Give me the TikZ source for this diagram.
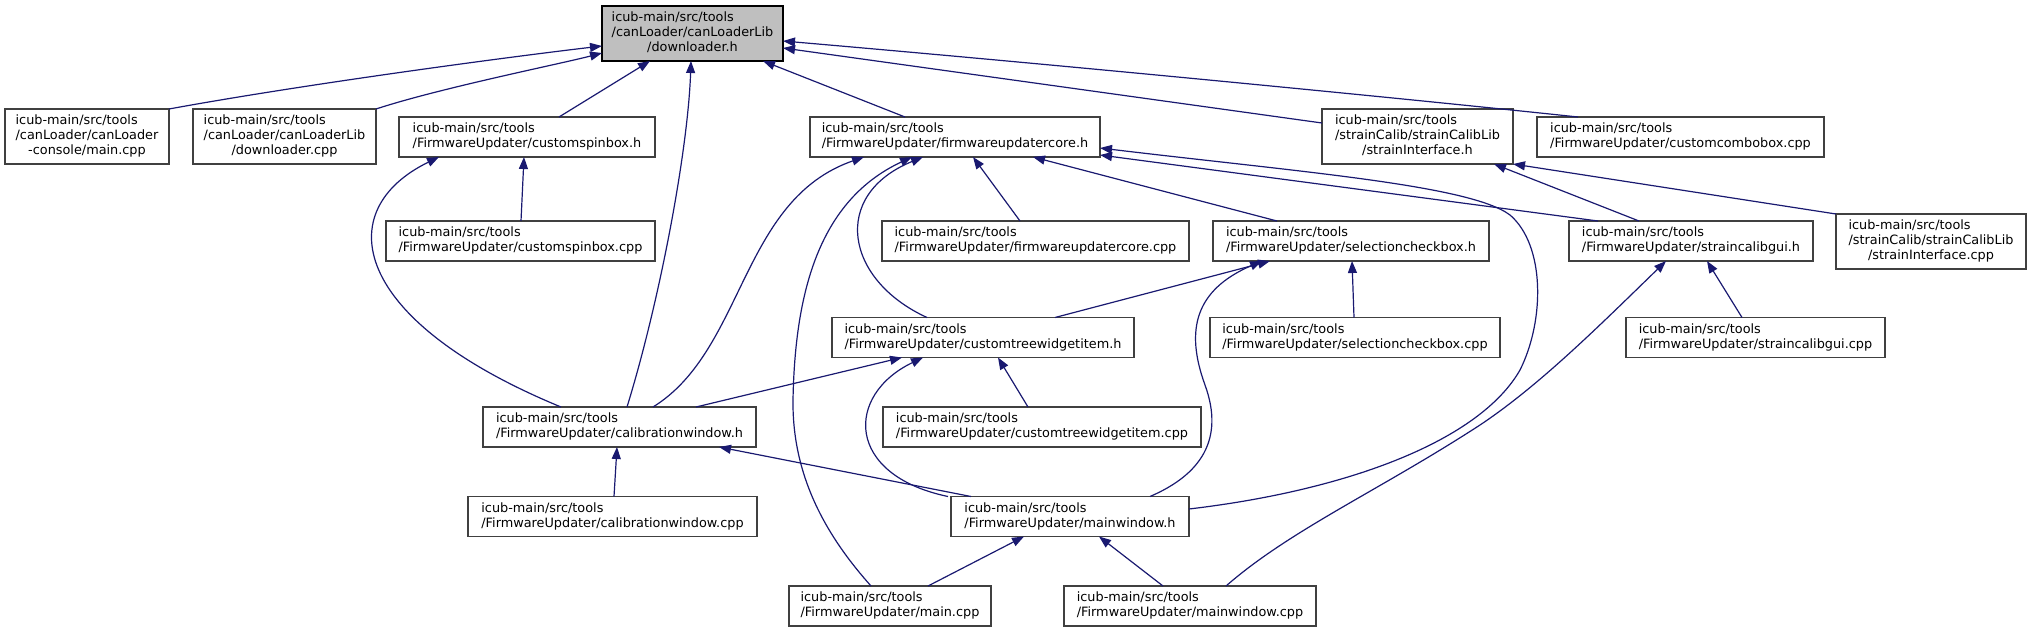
\documentclass[tikz,border=0pt]{standalone}
\usepackage{fontspec}
\setmainfont{DejaVu Sans}
\usetikzlibrary{arrows.meta}
\definecolor{edgeblue}{HTML}{191970}
\definecolor{boxgray}{HTML}{404040}
\definecolor{rootfill}{HTML}{BFBFBF}
\newcommand{\twol}[2]{\begin{tabular}{@{}l@{}}#1\\#2\end{tabular}}
\newcommand{\threel}[3]{\begin{tabular}{@{}l@{}}#1\\#2\\\multicolumn{1}{@{}c@{}}{#3}\end{tabular}}
\tikzset{
  filebox/.style={draw=boxgray, line width=1.3pt, fill=white, inner sep=0pt, outer sep=0pt,
    font=\fontsize{12.84}{15}\selectfont, minimum height=40pt},
  tallbox/.style={filebox, minimum height=55pt},
  rootbox/.style={tallbox, draw=black, fill=rootfill},
  edge/.style={draw=edgeblue, line width=1.2pt,
    arrows={Triangle[length=12pt, width=9pt, fill=edgeblue]-}}
}
\begin{document}
\begin{tikzpicture}[x=1pt, y=-1pt]
\useasboundingbox (0,0) rectangle (2031,632);
% nodes
\node[rootbox, minimum width=181pt] (D) at (692.5,33.5) {\threel{icub-main/src/tools}{/canLoader/canLoaderLib}{/downloader.h}};
\node[tallbox, minimum width=164pt] (C1) at (87,136.5) {\threel{icub-main/src/tools}{/canLoader/canLoader}{-console/main.cpp}};
\node[tallbox, minimum width=183pt] (C2) at (284.5,136.5) {\threel{icub-main/src/tools}{/canLoader/canLoaderLib}{/downloader.cpp}};
\node[filebox, minimum width=256pt] (SB) at (527,137) {\twol{icub-main/src/tools}{/FirmwareUpdater/customspinbox.h}};
\node[filebox, minimum width=290pt] (FC) at (955,137) {\twol{icub-main/src/tools}{/FirmwareUpdater/firmwareupdatercore.h}};
\node[tallbox, minimum width=191pt] (SI) at (1417.5,136.5) {\threel{icub-main/src/tools}{/strainCalib/strainCalibLib}{/strainInterface.h}};
\node[filebox, minimum width=287pt] (CC) at (1680.5,137) {\twol{icub-main/src/tools}{/FirmwareUpdater/customcombobox.cpp}};
\node[filebox, minimum width=269pt] (SBc) at (520.5,241) {\twol{icub-main/src/tools}{/FirmwareUpdater/customspinbox.cpp}};
\node[filebox, minimum width=307pt] (FCc) at (1035.5,241) {\twol{icub-main/src/tools}{/FirmwareUpdater/firmwareupdatercore.cpp}};
\node[filebox, minimum width=276pt] (SCh) at (1351,241) {\twol{icub-main/src/tools}{/FirmwareUpdater/selectioncheckbox.h}};
\node[filebox, minimum width=244pt] (SG) at (1691,241) {\twol{icub-main/src/tools}{/FirmwareUpdater/straincalibgui.h}};
\node[tallbox, minimum width=190pt] (SIc) at (1931,241.5) {\threel{icub-main/src/tools}{/strainCalib/strainCalibLib}{/strainInterface.cpp}};
\node[filebox, minimum width=302pt] (CTh) at (983,337.5) {\twol{icub-main/src/tools}{/FirmwareUpdater/customtreewidgetitem.h}};
\node[filebox, minimum width=290pt] (SCc) at (1355,337.5) {\twol{icub-main/src/tools}{/FirmwareUpdater/selectioncheckbox.cpp}};
\node[filebox, minimum width=259pt] (SGc) at (1755.5,337.5) {\twol{icub-main/src/tools}{/FirmwareUpdater/straincalibgui.cpp}};
\node[filebox, minimum width=273pt] (CWh) at (619.5,427) {\twol{icub-main/src/tools}{/FirmwareUpdater/calibrationwindow.h}};
\node[filebox, minimum width=318pt] (CTc) at (1042,427) {\twol{icub-main/src/tools}{/FirmwareUpdater/customtreewidgetitem.cpp}};
\node[filebox, minimum width=289pt] (CWc) at (612.5,516.5) {\twol{icub-main/src/tools}{/FirmwareUpdater/calibrationwindow.cpp}};
\node[filebox, minimum width=238pt] (MW) at (1070,516.5) {\twol{icub-main/src/tools}{/FirmwareUpdater/mainwindow.h}};
\node[filebox, minimum width=202pt] (MC) at (890,606) {\twol{icub-main/src/tools}{/FirmwareUpdater/main.cpp}};
\node[filebox, minimum width=252pt] (MWc) at (1190,606) {\twol{icub-main/src/tools}{/FirmwareUpdater/mainwindow.cpp}};
% edges from downloader.h
\draw[edge] ([yshift=-12.5pt]D.west) .. controls (500,58) and (300,85) .. (C1.north east);
\draw[edge] ([yshift=-19.5pt]D.west) .. controls (560,64) and (440,88) .. (C2.north east);
\draw[edge] ([xshift=-42.5pt]D.south) -- ([xshift=32pt]SB.north);
\draw[edge] ([xshift=-1.5pt]D.south) .. controls (688,150) and (660,300) .. ([xshift=7.5pt]CWh.north);
\draw[edge] ([xshift=70.5pt]D.south) -- ([xshift=-50pt]FC.north);
\draw[edge] ([yshift=-14.5pt]D.east) -- ([yshift=13.5pt]SI.west);
\draw[edge] ([yshift=-7.5pt]D.east) .. controls (1050,64) and (1400,98) .. ([xshift=-102.5pt]CC.north);
% customspinbox.h
\draw[edge] ([xshift=-3pt]SB.south) -- ([xshift=0.5pt]SBc.north);
\draw[edge] ([xshift=-88pt]SB.south) .. controls (330,210) and (350,320) .. ([xshift=-58.5pt]CWh.north);
% firmwareupdatercore.h
\draw[edge] ([xshift=18pt]FC.south) -- ([xshift=-15.5pt]FCc.north);
\draw[edge] ([xshift=78pt]FC.south) -- ([xshift=-74pt]SCh.north);
\draw[edge] ([xshift=-91pt]FC.south) .. controls (740,200) and (745,350) .. ([xshift=33.5pt]CWh.north);
\draw[edge] ([xshift=-32pt]FC.south) .. controls (830,195) and (845,280) .. ([xshift=-56pt]CTh.north);
\draw[edge] ([xshift=-43pt]FC.south) .. controls (820,200) and (795,290) .. (793,400) .. controls (792,480) and (830,540) .. ([xshift=-19pt]MC.north);
\draw[edge] ([yshift=-18pt]FC.east) -- ([xshift=-93pt]SG.north);
\draw[edge] ([yshift=-11pt]FC.east) .. controls (1300,172) and (1470,185) .. (1510,215) .. controls (1545,245) and (1545,320) .. (1520,370) .. controls (1480,440) and (1350,490) .. ([yshift=7.5pt]MW.east);
% strainInterface.h
\draw[edge] (SI.south east) -- (SIc.north west);
\draw[edge] ([xshift=76.5pt]SI.south) -- ([xshift=-52pt]SG.north);
% selectioncheckbox.h
\draw[edge] ([xshift=-81pt]SCh.south) -- ([xshift=72pt]CTh.north);
\draw[edge] ([xshift=1pt]SCh.south) -- ([xshift=-1pt]SCc.north);
\draw[edge] ([xshift=-89pt]SCh.south) .. controls (1195,290) and (1185,330) .. (1205,385) .. controls (1225,440) and (1200,475) .. ([xshift=80pt]MW.north);
% customtreewidgetitem.h
\draw[edge] ([xshift=-81pt]CTh.south) -- ([xshift=76.5pt]CWh.north);
\draw[edge] ([xshift=15pt]CTh.south) -- ([xshift=-14pt]CTc.north);
\draw[edge] ([xshift=-60pt]CTh.south) .. controls (845,395) and (845,475) .. ([xshift=-3pt]MW.north west);
% straincalibgui.h
\draw[edge] ([xshift=16pt]SG.south) -- ([xshift=-13.5pt]SGc.north);
\draw[edge] ([xshift=-25pt]SG.south) .. controls (1600,325) and (1540,385) .. (1480,425) .. controls (1380,490) and (1290,530) .. ([xshift=36pt]MWc.north);
% calibrationwindow.h
\draw[edge] ([xshift=-2.5pt]CWh.south) -- ([xshift=1.5pt]CWc.north);
\draw[edge] ([xshift=99.5pt]CWh.south) -- ([xshift=-99pt]MW.north);
% mainwindow.h
\draw[edge] ([xshift=-46pt]MW.south) -- ([xshift=38pt]MC.north);
\draw[edge] ([xshift=29pt]MW.south) -- ([xshift=-27pt]MWc.north);
\end{tikzpicture}
\end{document}
